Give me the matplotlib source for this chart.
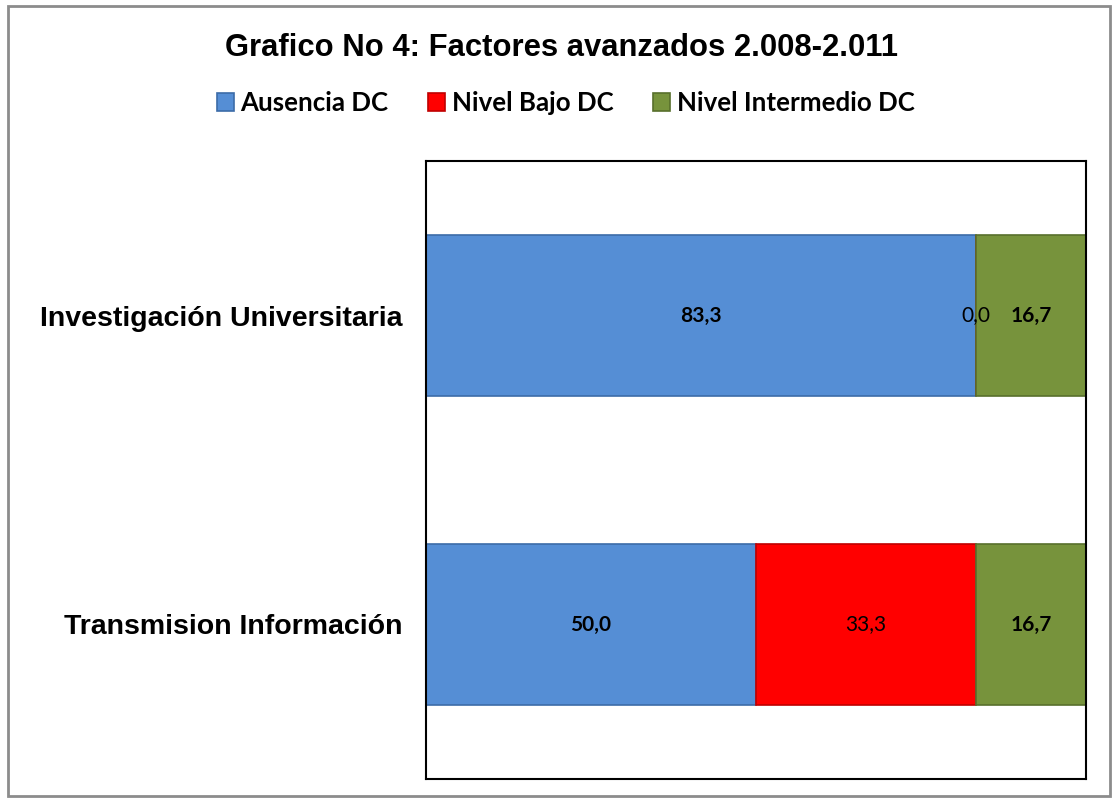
import matplotlib.pyplot as plt
from matplotlib.patches import Rectangle

# data
categories = ['Transmision Información', 'Investigación Universitaria']
series = ['Ausencia DC', 'Nivel Bajo DC', 'Nivel Intermedio DC']
ausencia = [50.0, 83.3]
bajo = [33.3, 0.0]
intermedio = [16.7, 16.7]

colors = ['#558ED5', '#FF0000', '#77933C']
edges = ['#3C6CA8', '#C00000', '#58702C']
label_bold = [True, False, True]

fig = plt.figure(figsize=(11.16, 8.02), dpi=100)
ax = fig.add_axes([426 / 1116, 1 - 779 / 802, 660 / 1116, 618 / 802])

# outer chart border
fig.patches.append(Rectangle((8 / 1116, 1 - 796 / 802), 1102 / 1116, 790 / 802,
                             transform=fig.transFigure, fill=False,
                             edgecolor='#8C8C8C', linewidth=2))

y = range(len(categories))
left = [0, 0]
for vals, name, c, ec, bold in zip([ausencia, bajo, intermedio], series, colors, edges, label_bold):
    ax.barh(y, vals, left=left, height=0.52, color=c, edgecolor=ec, linewidth=1.2, label=name)
    for i, v in enumerate(vals):
        ax.text(left[i] + v / 2, i, f'{v:.1f}'.replace('.', ','), ha='center', va='center',
                fontsize=15, family='Lato', fontweight='bold' if bold else 'normal',
                color='black')
    left = [a + b for a, b in zip(left, vals)]

ax.set_xlim(0, 100)
ax.set_ylim(-0.5, 1.5)
ax.set_xticks([])
ax.set_yticks(list(y))
ax.set_yticklabels(categories, fontsize=20.5, fontweight='bold', family='Liberation Sans')
ax.tick_params(axis='y', length=0, pad=17)
for s in ax.spines.values():
    s.set_linewidth(1.5)
    s.set_color('black')

fig.text(0.503, 1 - 48 / 802, 'Grafico No 4: Factores avanzados 2.008-2.011', ha='center', va='center',
         fontsize=22.3, fontweight='bold', family='Liberation Sans')

handles, labels = ax.get_legend_handles_labels()
fig.legend(handles, labels, loc='center', bbox_to_anchor=(0.507, 1 - 103 / 802), ncol=3,
           frameon=False, prop={'family': 'Lato', 'weight': 'bold', 'size': 18.6},
           handlelength=0.65, handleheight=0.65, handletextpad=0.25, columnspacing=1.55)

fig.savefig('out.png', dpi=100)
